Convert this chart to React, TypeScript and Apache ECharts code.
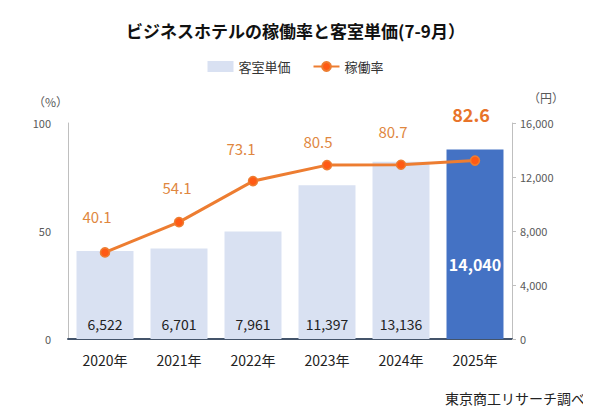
import { useEffect, useRef } from 'react';
import * as echarts from 'echarts';

const years = ['2020年', '2021年', '2022年', '2023年', '2024年', '2025年'];
const roomPrice = [6522, 6701, 7961, 11397, 13136, 14040];
const occupancy = [40.1, 54.1, 73.1, 80.5, 80.7, 82.6];
const leftTicks = [0, 50, 100];
const rightTicks = [0, 4000, 8000, 12000, 16000];

const FONT = '"Noto Sans CJK JP", "Noto Sans", sans-serif';
const ORANGE = '#ED7D31';

// hand-placed label offsets, as in the original
const lineLabelOffsets = [[-8, -36], [-2, -35], [-12, -33], [-9, -24], [-8, -33], [-4, -47]];

export default function App() {
    const chartRef = useRef<HTMLDivElement>(null);

    useEffect(() => {
        if (!chartRef.current) return;
        const chart = echarts.init(chartRef.current, null, { renderer: 'svg' });
        const last = years.length - 1;

        const option: echarts.EChartsOption = {
            animation: false,
            backgroundColor: '#fff',
            title: {
                text: 'ビジネスホテルの稼働率と客室単価(7-9月）',
                left: 'center',
                top: 17,
                textStyle: { fontSize: 17, fontWeight: 'bold', color: '#111', fontFamily: FONT },
            },
            legend: {
                top: 55,
                left: 'center',
                itemGap: 22,
                itemWidth: 26,
                itemHeight: 11,
                textStyle: { fontSize: 13, color: '#333', fontFamily: FONT },
                data: [
                    { name: '客室単価', icon: 'rect', itemStyle: { color: '#D9E1F2' } },
                    { name: '稼働率' },
                ],
            },
            grid: { left: 68, right: 79, top: 123, bottom: 77 },
            xAxis: {
                type: 'category',
                data: years,
                axisTick: { show: false },
                axisLine: { lineStyle: { color: '#44546A', width: 2 } },
                axisLabel: { fontSize: 14, color: '#222', margin: 14, fontFamily: FONT },
            },
            yAxis: [
                {
                    type: 'value',
                    min: leftTicks[0],
                    max: leftTicks[leftTicks.length - 1],
                    interval: 50,
                    name: '（%）',
                    nameGap: 16,
                    nameTextStyle: { fontSize: 12, color: '#595959', align: 'right', padding: [0, 0, 0, 0], fontFamily: FONT },
                    axisLine: { show: true, lineStyle: { color: '#BFBFBF' } },
                    axisTick: { show: false },
                    splitLine: { show: false },
                    axisLabel: { fontSize: 11, color: '#595959', margin: 17, fontFamily: FONT },
                },
                {
                    type: 'value',
                    min: rightTicks[0],
                    max: rightTicks[rightTicks.length - 1],
                    interval: 4000,
                    name: '（円）',
                    nameGap: 20,
                    nameTextStyle: { fontSize: 12, color: '#595959', align: 'left', padding: [0, 0, 0, 16], fontFamily: FONT },
                    axisLine: { show: true, lineStyle: { color: '#BFBFBF' } },
                    axisTick: { show: true, length: 4, lineStyle: { color: '#BFBFBF' } },
                    splitLine: { show: false },
                    axisLabel: {
                        fontSize: 11,
                        color: '#595959',
                        margin: 8,
                        fontFamily: FONT,
                        formatter: (v: number) => v.toLocaleString('en-US'),
                    },
                },
            ],
            series: [
                {
                    name: '客室単価',
                    type: 'bar',
                    yAxisIndex: 1,
                    barWidth: '77%',
                    data: roomPrice.map((v, i) => ({
                        value: v,
                        itemStyle: { color: i === last ? '#4472C4' : '#D9E1F2' },
                        label: i === last
                            ? { fontSize: 16, fontWeight: 'bold', color: '#fff', distance: 67 }
                            : {},
                    })),
                    label: {
                        show: true,
                        position: 'insideBottom',
                        distance: 8,
                        fontSize: 14,
                        color: '#222',
                        fontFamily: FONT,
                        formatter: (p: any) => Number(p.value).toLocaleString('en-US'),
                    },
                },
                {
                    name: '稼働率',
                    type: 'line',
                    yAxisIndex: 0,
                    symbol: 'circle',
                    symbolSize: 9,
                    lineStyle: { color: ORANGE, width: 3 },
                    itemStyle: { color: '#FF5A14', borderColor: ORANGE, borderWidth: 1.5 },
                    data: occupancy.map((v, i) => ({
                        value: v,
                        label: {
                            offset: lineLabelOffsets[i],
                            ...(i === last ? { fontSize: 18, fontWeight: 'bold', color: '#E8742A' } : {}),
                        },
                    })),
                    label: {
                        show: true,
                        position: 'inside',
                        fontSize: 15,
                        color: '#E0873F',
                        fontFamily: FONT,
                        formatter: (p: any) => Number(p.value).toFixed(1),
                    },
                },
            ],
            graphic: [
                {
                    type: 'text',
                    right: 6,
                    top: 391,
                    style: { text: '東京商工リサーチ調べ', fontSize: 14, fill: '#222', fontFamily: FONT },
                },
            ],
        };

        chart.setOption(option);
        return () => chart.dispose();
    }, []);

    return <div ref={chartRef} style={{ width: 591, height: 416, margin: -8 }} />;
}
